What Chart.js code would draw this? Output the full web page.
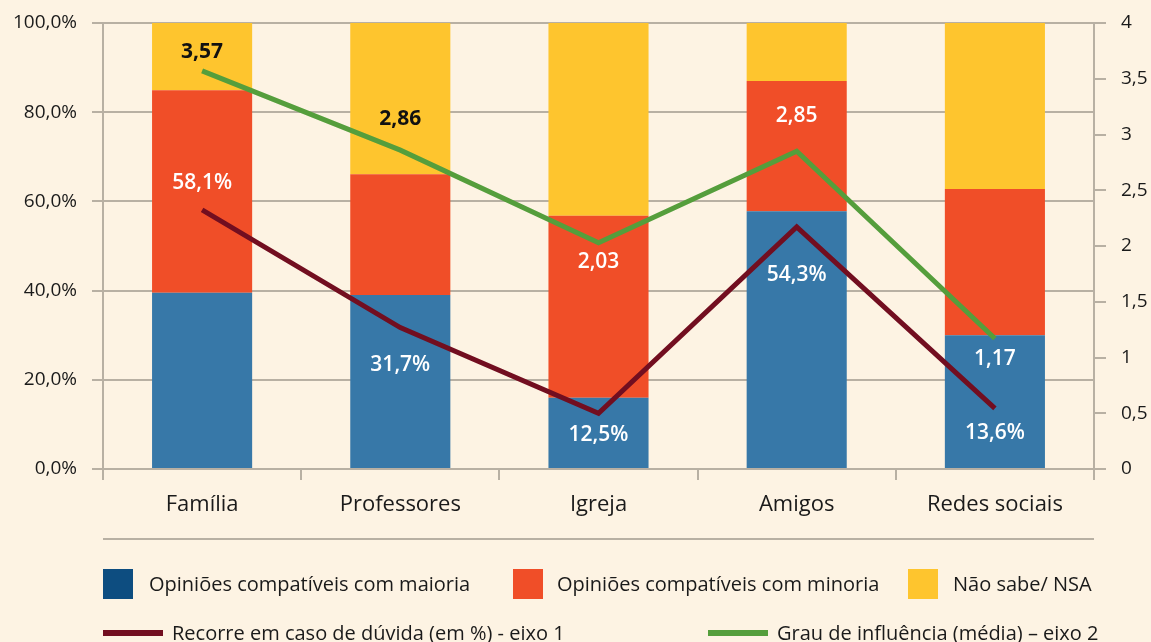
<!DOCTYPE html>
<html>
<head>
<meta charset="utf-8">
<script src="https://cdn.jsdelivr.net/npm/chart.js@4"></script>
<style>
  html, body { margin: 0; padding: 0; background: #fdf3e3; }
  #wrap { position: relative; width: 1151px; height: 642px; overflow: hidden; font-family: "Open Sans", sans-serif; color: #1a1a1a; }
  #grafico { position: absolute; left: 0; top: 0; }
  .sep { position: absolute; left: 103px; width: 991px; top: 538px; height: 2px; background: #b8b0a3; }
  .item { position: absolute; font-size: 20px; line-height: 24px; white-space: nowrap; }
  .box { position: absolute; width: 30px; height: 30px; }
  .linha { position: absolute; width: 60px; height: 6px; }
</style>
</head>
<body>
<div id="wrap">
  <canvas id="grafico" width="1151" height="642"></canvas>
  <div class="sep"></div>
  <div class="box" style="left:103px; top:569px; background:#0d4d80;"></div>
  <div class="item" style="left:149px; top:572px;">Opiniões compatíveis com maioria</div>
  <div class="box" style="left:513px; top:569px; background:#f04e28;"></div>
  <div class="item" style="left:557px; top:572px;">Opiniões compatíveis com minoria</div>
  <div class="box" style="left:908px; top:569px; background:#fec52e;"></div>
  <div class="item" style="left:953px; top:572px;">Não sabe/ NSA</div>
  <div class="linha" style="left:103px; top:630px; background:#720e20;"></div>
  <div class="item" style="left:172px; top:621px;">Recorre em caso de dúvida (em %) - eixo 1</div>
  <div class="linha" style="left:708px; top:630px; background:#559e3c;"></div>
  <div class="item" style="left:777px; top:621px;">Grau de influência (média) – eixo 2</div>
</div>
<script>
// dati
var categorie = ['Família', 'Professores', 'Igreja', 'Amigos', 'Redes sociais'];
var maioria = [39.5, 39.0, 16.0, 57.8, 30.0];
var minoria = [45.4, 27.1, 40.8, 29.2, 32.8];
var naoSabe = [15.1, 33.9, 43.2, 13.0, 37.2];
var recorre = [58.1, 31.7, 12.5, 54.3, 13.6];
var grau = [3.57, 2.86, 2.03, 2.85, 1.17];
var ticksEixo1 = [0, 20, 40, 60, 80, 100];
var ticksEixo2 = [0, 0.5, 1, 1.5, 2, 2.5, 3, 3.5, 4];

var fonte = '"Open Sans", sans-serif';
var corGrelha = '#b8b0a3';

function virgula(n, casas) {
    return n.toFixed(casas).replace('.', ',');
}

// etichette sui punti delle linee
var etichette = {
    id: 'etichette',
    afterDatasetsDraw: function (chart) {
        var ctx = chart.ctx;
        chart.data.datasets.forEach(function (ds, i) {
            if (!ds.etichette) return;
            var meta = chart.getDatasetMeta(i);
            meta.data.forEach(function (p, j) {
                var e = ds.etichette;
                ctx.save();
                ctx.font = e.peso[j] + ' 21px ' + fonte;
                ctx.fillStyle = e.cor[j];
                ctx.textAlign = 'center';
                ctx.textBaseline = 'middle';
                ctx.fillText(e.testo(ds.data[j]), p.x, p.y + e.desloc[j]);
                ctx.restore();
            });
        });
    }
};

function fissaLarghezza(w) {
    return function (s) {
        s.width = w;
        s.paddingTop = 0;
        s.paddingBottom = 0;
    };
}

var ctx = document.getElementById('grafico');
var chart = new Chart(ctx, {
    type: 'bar',
    data: {
        labels: categorie,
        datasets: [{
            type: 'line',
            label: 'Recorre em caso de dúvida (em %) - eixo 1',
            data: recorre,
            yAxisID: 'y',
            stack: 'linha1',
            borderColor: '#720e20',
            borderWidth: 5,
            borderJoinStyle: 'miter',
            pointRadius: 0,
            tension: 0,
            order: 0,
            etichette: {
                desloc: [-27, 37, 22, 48, 25],
                cor: ['#fff', '#fff', '#fff', '#fff', '#fff'],
                peso: ['600', '600', '600', '600', '600'],
                testo: function (v) { return virgula(v, 1) + '%'; }
            }
        }, {
            type: 'line',
            label: 'Grau de influência (média) – eixo 2',
            data: grau,
            yAxisID: 'y1',
            borderColor: '#559e3c',
            borderWidth: 5,
            borderJoinStyle: 'miter',
            pointRadius: 0,
            tension: 0,
            order: 0,
            etichette: {
                desloc: [-19, -31, 19, -35, 20],
                cor: ['#111', '#111', '#fff', '#fff', '#fff'],
                peso: ['700', '700', '600', '600', '600'],
                testo: function (v) { return virgula(v, 2); }
            }
        }, {
            label: 'Opiniões compatíveis com maioria',
            data: maioria,
            backgroundColor: '#3778a8',
            yAxisID: 'y',
            order: 1
        }, {
            label: 'Opiniões compatíveis com minoria',
            data: minoria,
            backgroundColor: '#f04e28',
            yAxisID: 'y',
            order: 1
        }, {
            label: 'Não sabe/ NSA',
            data: naoSabe,
            backgroundColor: '#fec52e',
            yAxisID: 'y',
            order: 1
        }]
    },
    options: {
        responsive: false,
        animation: false,
        layout: { padding: { top: 23, bottom: 113, left: 0, right: 0 } },
        datasets: { bar: { barPercentage: 0.505, categoryPercentage: 1 } },
        plugins: { legend: { display: false }, tooltip: { enabled: false } },
        scales: {
            x: {
                stacked: true,
                grid: { offset: true, drawOnChartArea: false, drawTicks: true, tickLength: 11, color: corGrelha, lineWidth: 2 },
                border: { color: corGrelha, width: 2 },
                ticks: { color: '#1a1a1a', font: { family: fonte, size: 22 }, padding: 12 },
                afterFit: function (s) { s.height = 60; s.paddingLeft = 0; s.paddingRight = 0; }
            },
            y: {
                stacked: true,
                position: 'left',
                min: 0,
                max: 100,
                afterBuildTicks: function (s) { s.ticks = ticksEixo1.map(function (v) { return { value: v }; }); },
                grid: { color: corGrelha, lineWidth: 2, tickLength: 11 },
                border: { color: corGrelha, width: 2 },
                ticks: {
                    color: '#1a1a1a',
                    font: { family: fonte, size: 19 },
                    padding: 15,
                    callback: function (v) { return virgula(v, 1) + '%'; }
                },
                afterFit: fissaLarghezza(103)
            },
            y1: {
                position: 'right',
                min: 0,
                max: 4,
                afterBuildTicks: function (s) { s.ticks = ticksEixo2.map(function (v) { return { value: v }; }); },
                grid: { drawOnChartArea: false, color: corGrelha, lineWidth: 2, tickLength: 12 },
                border: { color: corGrelha, width: 2 },
                ticks: {
                    color: '#1a1a1a',
                    font: { family: fonte, size: 19 },
                    padding: 15,
                    callback: function (v) { return String(v).replace('.', ','); }
                },
                afterFit: fissaLarghezza(57)
            }
        }
    },
    plugins: [etichette]
});
</script>
</body>
</html>
